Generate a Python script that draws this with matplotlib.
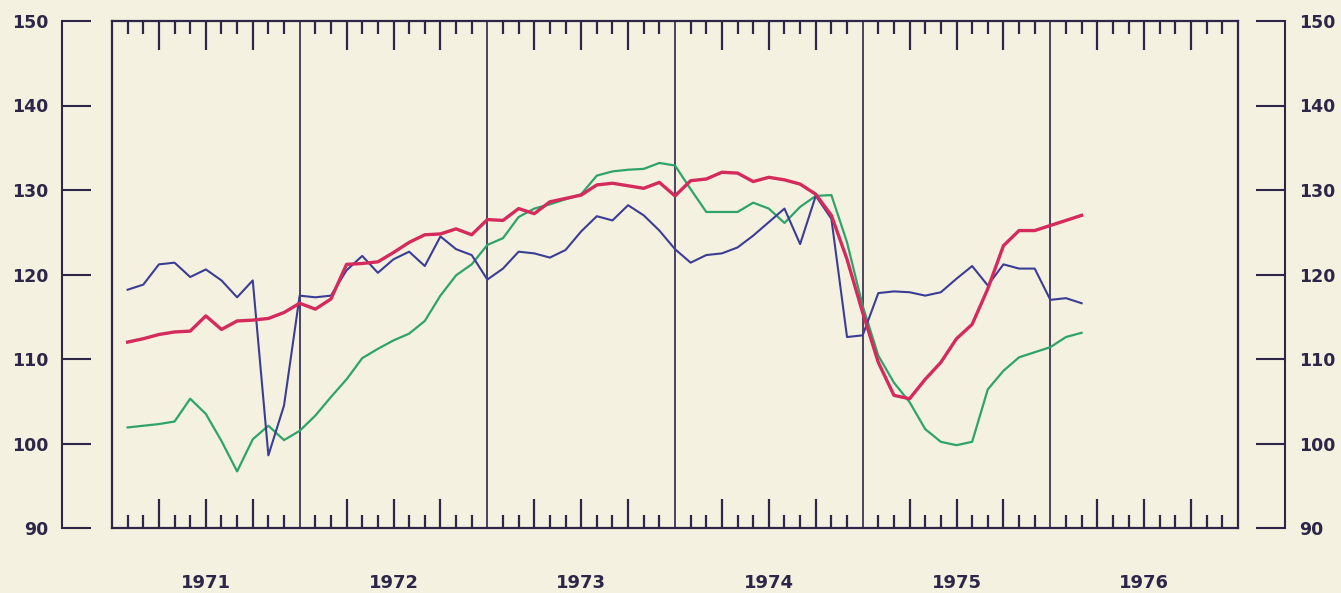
import matplotlib
matplotlib.use("Agg")
import matplotlib.pyplot as plt
import numpy as np

# monthly index, Jan 1971 .. Feb 1976
months = np.arange(1, 63)
years = [1971, 1972, 1973, 1974, 1975, 1976]
year_labels = ["1971", "1972", "1973", "1974", "1975", "1976"]
y_ticks = [90, 100, 110, 120, 130, 140, 150]

red = [112.0, 112.4, 112.9, 113.2, 113.3, 115.1, 113.5, 114.5, 114.6, 114.8, 115.5, 116.6,
       115.9, 117.1, 121.2, 121.3, 121.5, 122.6, 123.8, 124.7, 124.8, 125.4, 124.7, 126.5,
       126.4, 127.8, 127.2, 128.6, 129.0, 129.4, 130.6, 130.8, 130.5, 130.2, 130.9, 129.3,
       131.1, 131.3, 132.1, 132.0, 131.0, 131.5, 131.2, 130.7, 129.5, 127.0, 121.8, 115.5,
       109.6, 105.7, 105.3, 107.6, 109.6, 112.4, 114.1, 118.3, 123.4, 125.2, 125.2, 125.8,
       126.4, 127.0]

green = [101.9, 102.1, 102.3, 102.6, 105.3, 103.5, 100.3, 96.7, 100.5, 102.1, 100.4, 101.5,
         103.3, 105.5, 107.6, 110.1, 111.2, 112.2, 113.0, 114.5, 117.5, 119.9, 121.2, 123.5,
         124.3, 126.8, 127.8, 128.3, 128.9, 129.5, 131.7, 132.2, 132.4, 132.5, 133.2, 132.9,
         130.1, 127.4, 127.4, 127.4, 128.5, 127.8, 126.1, 128.0, 129.3, 129.4, 123.8, 116.3,
         110.4, 107.2, 104.9, 101.7, 100.2, 99.8, 100.2, 106.4, 108.6, 110.2, 110.8, 111.4,
         112.6, 113.1]

blue = [118.2, 118.8, 121.2, 121.4, 119.7, 120.6, 119.3, 117.3, 119.3, 98.6, 104.5, 117.5,
        117.3, 117.5, 120.5, 122.2, 120.2, 121.8, 122.7, 121.0, 124.5, 123.0, 122.3, 119.4,
        120.7, 122.7, 122.5, 122.0, 122.9, 125.1, 126.9, 126.4, 128.2, 127.0, 125.2, 123.0,
        121.4, 122.3, 122.5, 123.2, 124.6, 126.2, 127.8, 123.6, 129.3, 126.6, 112.6, 112.8,
        117.8, 118.0, 117.9, 117.5, 117.9, 119.5, 121.0, 118.7, 121.2, 120.7, 120.7, 117.0,
        117.2, 116.6]

x = years[0] + months / 12.0

bg = "#f4f1e0"
ink = "#2d2648"
plt.rcParams['font.family'] = ['DejaVu Sans']

W, H = 1341, 593
fig = plt.figure(figsize=(W / 100, H / 100), dpi=100, facecolor=bg)

# outer scale axes (left and right value axes, detached from the box)
ay = fig.add_axes([62 / W, 65 / H, (1285 - 62) / W, 507 / H])
ay.patch.set_visible(False)
ay.set_ylim(90, 150)
ay.set_xticks([])
for s in ["top", "bottom"]:
    ay.spines[s].set_visible(False)
for s in ["left", "right"]:
    ay.spines[s].set_color(ink)
    ay.spines[s].set_linewidth(1.5)
ay.set_yticks(y_ticks)
ay.tick_params(axis="y", direction="in", length=21, width=1.5, color=ink,
               left=True, right=True, labelleft=True, labelright=True,
               pad=10, labelsize=12.5, labelcolor=ink)
for lab in ay.get_yticklabels():
    lab.set_fontweight("bold")

# main box
ax = fig.add_axes([112 / W, 65 / H, 1126 / W, 507 / H])
ax.patch.set_visible(False)
ax.set_xlim(years[0], years[-1] + 1)
ax.set_ylim(90, 150)
ax.set_yticks([])
for s in ax.spines.values():
    s.set_color(ink)
    s.set_linewidth(1.6)

all_m = years[0] + np.arange(1, 12 * len(years)) / 12.0
quarter = [v for i, v in enumerate(all_m, start=1) if i % 3 == 0 and i % 12 != 0]
monthly = [v for i, v in enumerate(all_m, start=1) if i % 3 != 0]
ax.set_xticks(quarter)
ax.set_xticks(monthly, minor=True)
ax.tick_params(axis="x", which="major", direction="in", length=21, width=1.6,
               color=ink, top=True, bottom=True, labelbottom=False)
ax.tick_params(axis="x", which="minor", direction="in", length=9.5, width=1.6,
               color=ink, top=True, bottom=True)

for yr in years[1:]:
    ax.axvline(yr, color=ink, lw=1.2, zorder=1)

ax.plot(x, green, color="#2ea36a", lw=1.6, zorder=3)
ax.plot(x, blue, color="#3b3d95", lw=1.5, zorder=4)
ax.plot(x, red, color="#d42a5c", lw=2.4, zorder=5)

for yr, lab in zip(years, year_labels):
    ax.text(yr + 0.5, -0.108, lab, transform=ax.get_xaxis_transform(),
            ha="center", va="center", fontsize=13, fontweight="bold", color=ink)

fig.savefig("out.png", dpi=100, facecolor=bg)
